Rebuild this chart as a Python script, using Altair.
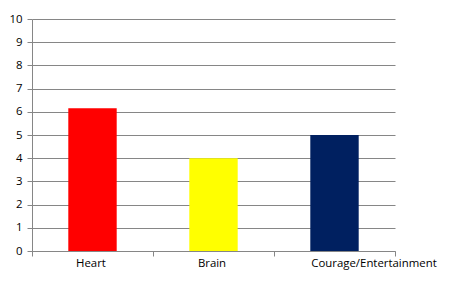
import altair as alt
import pandas as pd

categories = ["Heart", "Brain", "Courage/Entertainment"]
values = [6.15, 4, 5]
colors = ["#FF0000", "#FFFF00", "#002060"]

df = pd.DataFrame({"category": categories, "value": values, "color": colors})

chart = alt.Chart(df).mark_bar(width={"band": 0.4}).encode(
    x=alt.X("category:N", sort=categories, title=None,
            scale=alt.Scale(paddingInner=0, paddingOuter=0),
            axis=alt.Axis(labelAngle=0, tickBand="extent", domainColor="#868686",
                          tickColor="#868686", tickSize=5, labelPadding=1,
                          labelOffset={"condition": {"test": "datum.value == 'Courage/Entertainment'", "value": 39}, "value": -2},
                          labelFont="Open Sans", labelFontSize=11.4, labelColor="#000000")),
    y=alt.Y("value:Q", title=None,
            scale=alt.Scale(domain=[0, 10], nice=False),
            axis=alt.Axis(values=list(range(0, 11)), grid=True, gridColor="#868686",
                          domainColor="#868686", tickColor="#868686", tickSize=5,
                          labelPadding=5, labelFont="Open Sans", labelFontSize=11.4,
                          labelColor="#000000")),
    color=alt.Color("color:N", scale=None, legend=None),
).properties(
    width=363, height=232,
    autosize=alt.AutoSizeParams(type="none"),
    padding={"left": 32, "top": 19, "right": 55, "bottom": 40},
).configure_view(stroke=None).configure_axis(gridWidth=1, domainWidth=1)

chart.save("out.html", embed_options={"renderer": "svg", "actions": False})
